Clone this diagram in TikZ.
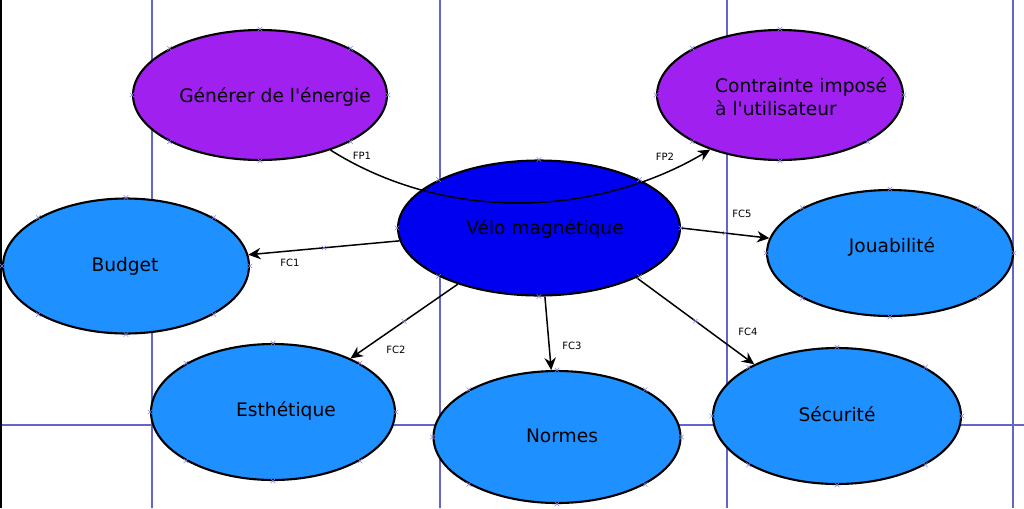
\documentclass[tikz,border=0pt]{standalone}
\usepackage{fontspec}
\setmainfont{DejaVu Sans}[Ligatures=TeXOff]
\usetikzlibrary{arrows.meta,shapes.geometric,shapes.misc}

\definecolor{violetfp}{RGB}{160,32,240}
\definecolor{bleuvelo}{RGB}{0,0,240}
\definecolor{bleufc}{RGB}{30,144,255}
\definecolor{grille}{RGB}{100,100,205}
\definecolor{repere}{RGB}{135,135,235}

\tikzset{
  bulle/.style={ellipse, draw=black, line width=1.2pt, inner sep=0pt},
  fp/.style={bulle, fill=violetfp},
  fc/.style={bulle, fill=bleufc},
  texte/.style={font=\fontsize{10.6}{13}\selectfont, align=left},
  lbl/.style={font=\fontsize{5.7}{6}\selectfont},
  fleche/.style={-{Stealth[length=7pt,width=6.5pt]}, line width=0.85pt},
  xmark/.style={cross out, draw=repere, line width=0.3pt, minimum size=0.08cm, inner sep=0pt},
}

\begin{document}
\begin{tikzpicture}[x=0.02cm,y=-0.02cm]
  \useasboundingbox (0,0) rectangle (1024,508);
  % Grille de page
  \foreach \x in {152,440,727,1013}
    \draw[grille,line width=0.6pt] (\x,0) -- (\x,508);
  \draw[grille,line width=0.6pt] (0,425) -- (1024,425);
  \draw[black,line width=1.2pt] (0.6,0) -- (0.6,508);
  % Bulles
  \node[fp, minimum width=5.08cm, minimum height=2.6cm] (gen) at (260,95) {};
  \node[fp, minimum width=4.92cm, minimum height=2.6cm] (contr) at (780,95) {};
  \node[bulle, fill=bleuvelo, minimum width=5.64cm, minimum height=2.7cm] (velo) at (539,228) {};
  \node[fc, minimum width=4.92cm, minimum height=2.7cm] (budget) at (126,266) {};
  \node[fc, minimum width=4.92cm, minimum height=2.52cm] (joua) at (890,253) {};
  \node[fc, minimum width=4.88cm, minimum height=2.72cm] (esth) at (273,412) {};
  \node[fc, minimum width=4.94cm, minimum height=2.64cm] (normes) at (557,437) {};
  \node[fc, minimum width=4.96cm, minimum height=2.72cm] (secu) at (837,416) {};
  % Textes
  \node[texte] (gen-t) at (275,97) {Générer de l'énergie};
  \node[texte, anchor=west] (contr-t) at (709,97) {Contrainte imposé\\à l'utilisateur};
  \node[texte] (velo-t) at (545,229) {Vélo magnétique};
  \node[texte] (budget-t) at (125,266) {Budget};
  \node[texte] (joua-t) at (892,247) {Jouabilité};
  \node[texte] (esth-t) at (286,411) {Esthétique};
  \node[texte] (normes-t) at (562,436) {Normes};
  \node[texte] (secu-t) at (837,414) {Sécurité};
  % Fonctions principales
  \draw[fleche] (gen.-38) .. controls (450,225) and (600,215) .. (contr.-142);
  \node[lbl] (fp1) at (362,156) {FP1};
  \node[lbl] (fp2) at (665,157) {FP2};
  % Fonctions contraintes
  \draw[fleche] (velo) -- (budget) node[xmark,midway] {};
  \draw[fleche] (velo) -- (esth) node[xmark,midway] {};
  \draw[fleche] (velo) -- (normes);
  \draw[fleche] (velo.-27) -- (secu.148) node[xmark,midway] {};
  \draw[fleche] (velo.0) -- (joua.173) node[xmark,midway] {};
  \node[lbl] (fc1) at (290,263) {FC1};
  \node[lbl] (fc2) at (396,350) {FC2};
  \node[lbl] (fc3) at (572,346) {FC3};
  \node[lbl] (fc4) at (748,332) {FC4};
  \node[lbl] (fc5) at (742,214) {FC5};
  % Points d'accroche
  \foreach \n in {gen,contr,velo,budget,joua,esth,normes,secu}
    \foreach \a in {north,south,east,west,north east,north west,south east,south west}
      \node[xmark] at (\n.\a) {};
\end{tikzpicture}
\end{document}
